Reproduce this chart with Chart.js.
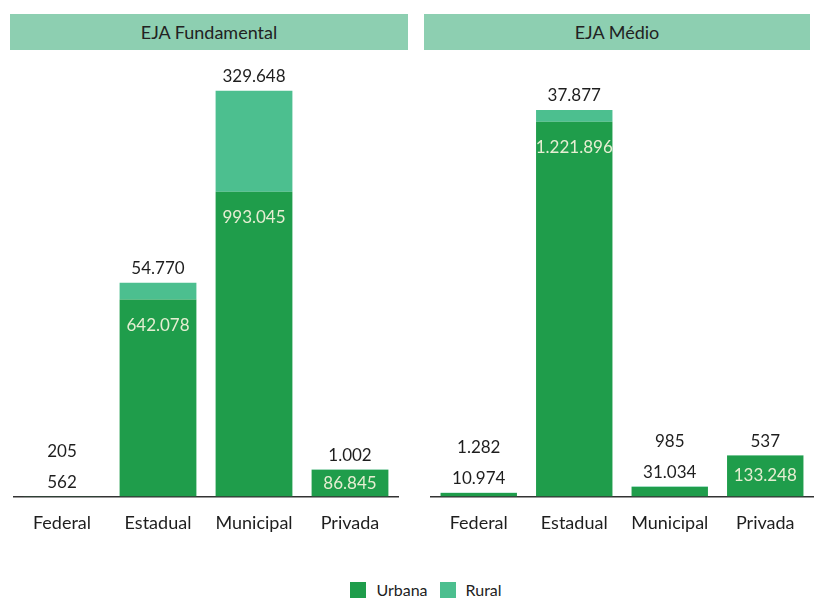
<!DOCTYPE html>
<html lang="pt-BR">
<head>
<meta charset="UTF-8">
<title>EJA - Matrículas por dependência administrativa</title>
<script src="https://cdn.jsdelivr.net/npm/chart.js@4"></script>
<style>
  body { margin: 0; background: #fff; font-family: Lato, "Open Sans", sans-serif; }
  .wrap { position: relative; width: 816px; height: 606px; overflow: hidden; }
  .header { position: absolute; top: 14px; height: 36px; line-height: 36px; background: #8dcfb1;
            color: #222; text-align: center; font-size: 18px; }
  .panel { position: absolute; top: 0; }
  .legend { position: absolute; top: 580px; left: 18px; width: 816px; text-align: center;
            font-size: 16px; color: #222; }
  .legend .box { display: inline-block; width: 16px; height: 16px; vertical-align: -2px; margin: 0 10px 0 0; }
  .legend .item { margin: 0 6px; }
</style>
</head>
<body>
<div class="wrap">
  <div class="header" id="h1" style="left:10px;width:398px;"></div>
  <div class="header" id="h2" style="left:424px;width:386px;"></div>
  <canvas class="panel" id="chartFund" width="408" height="550" style="left:0"></canvas>
  <canvas class="panel" id="chartMedio" width="408" height="550" style="left:408px"></canvas>
  <div class="legend" id="legend"></div>
</div>

<script>
// data
var panelTitles = ['EJA Fundamental', 'EJA Médio'];
var categories = ['Federal', 'Estadual', 'Municipal', 'Privada'];
var seriesNames = ['Urbana', 'Rural'];

var fundUrbana = [562, 642078, 993045, 86845];
var fundRural  = [205, 54770, 329648, 1002];
var medioUrbana = [10974, 1221896, 31034, 133248];
var medioRural  = [1282, 37877, 985, 537];

var urbanaColor = '#1f9d4b';
var ruralColor = '#4cbf8f';
var insideText = '#e6eed2';
var outsideText = '#1e1e1e';

function fmt(v) {
    return String(v).replace(/\B(?=(\d{3})+(?!\d))/g, '.');
}

// value labels: urbana inside the bar when there is room, else stacked above
var valueLabels = {
    id: 'valueLabels',
    afterDatasetsDraw: function(chart) {
        var ctx = chart.ctx;
        var urb = chart.getDatasetMeta(0).data;
        var rur = chart.getDatasetMeta(1).data;
        var uVals = chart.data.datasets[0].data;
        var rVals = chart.data.datasets[1].data;
        ctx.save();
        ctx.font = '17px Lato';
        ctx.textAlign = 'center';
        ctx.textBaseline = 'middle';
        urb.forEach(function(bar, i) {
            var h = bar.base - bar.y;
            var top = Math.min(bar.y, rur[i].y);
            var uy, ry;
            if (h >= 20) {
                uy = bar.y + Math.min(26, h / 2);
                ry = top - 14;
                ctx.fillStyle = insideText;
            } else {
                uy = top - 14;
                ry = uy - 31;
                ctx.fillStyle = outsideText;
            }
            ctx.fillText(fmt(uVals[i]), bar.x, uy);
            ctx.fillStyle = outsideText;
            ctx.fillText(fmt(rVals[i]), bar.x, ry);
        });
        ctx.restore();
    }
};

function makeChart(id, urbana, rural, padLeft, padRight) {
    return new Chart(document.getElementById(id), {
        type: 'bar',
        data: {
            labels: categories,
            datasets: [
                { label: seriesNames[0], data: urbana, backgroundColor: urbanaColor,
                  barPercentage: 0.8, categoryPercentage: 1 },
                { label: seriesNames[1], data: rural, backgroundColor: ruralColor,
                  barPercentage: 0.8, categoryPercentage: 1 }
            ]
        },
        options: {
            responsive: false,
            animation: false,
            layout: { padding: { top: 67, left: padLeft, right: padRight, bottom: 0 } },
            plugins: { legend: { display: false }, tooltip: { enabled: false } },
            scales: {
                x: {
                    stacked: true,
                    grid: { display: false, drawTicks: false },
                    border: { display: true, color: '#333', width: 1.5 },
                    ticks: { color: '#1e1e1e', font: { family: 'Lato', size: 18 }, padding: 16 }
                },
                y: { stacked: true, display: false, min: 0, max: 1400000 }
            }
        },
        plugins: [valueLabels]
    });
}

document.getElementById('h1').textContent = panelTitles[0];
document.getElementById('h2').textContent = panelTitles[1];

makeChart('chartFund', fundUrbana, fundRural, 14, 10);
makeChart('chartMedio', medioUrbana, medioRural, 23, 3);

// legend
var legend = document.getElementById('legend');
[urbanaColor, ruralColor].forEach(function(c, i) {
    var item = document.createElement('span');
    item.className = 'item';
    var box = document.createElement('span');
    box.className = 'box';
    box.style.background = c;
    item.appendChild(box);
    item.appendChild(document.createTextNode(seriesNames[i]));
    legend.appendChild(item);
});
</script>
</body>
</html>
